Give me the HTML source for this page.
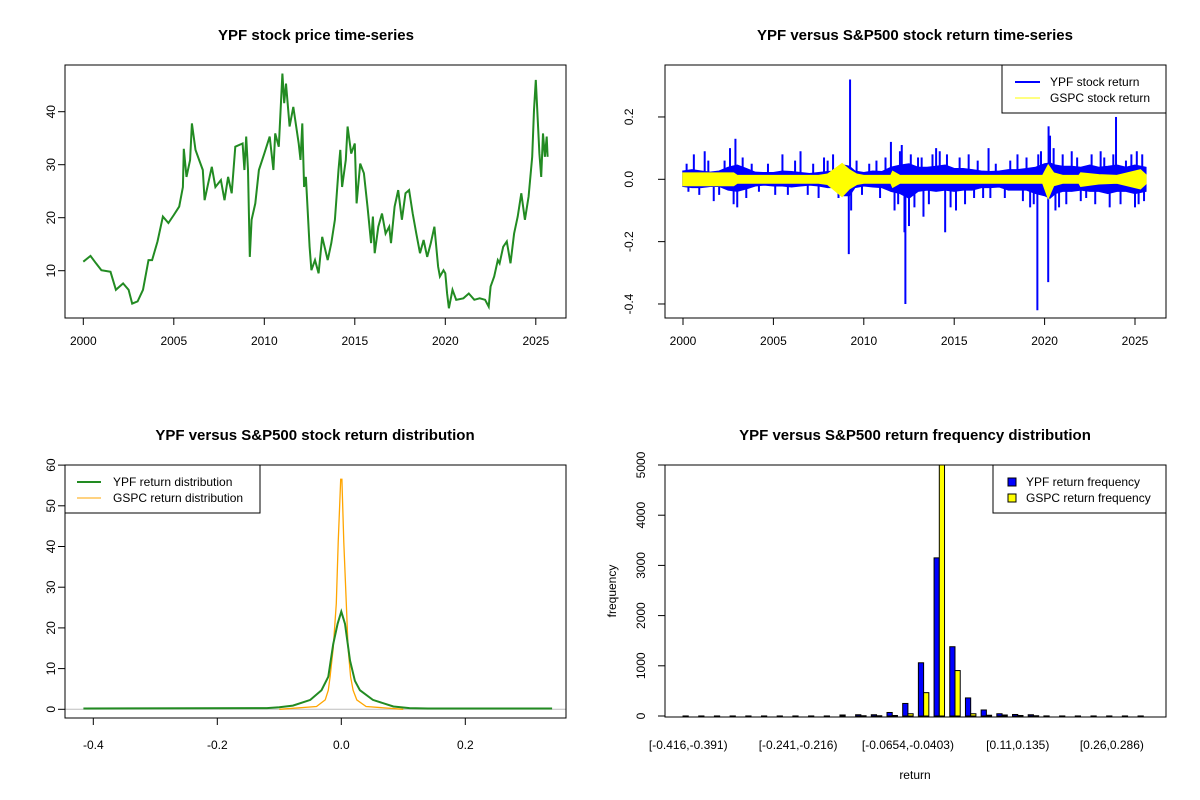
<!DOCTYPE html>
<html><head><meta charset="utf-8">
<style>
html,body{margin:0;padding:0;background:#fff;}
svg{display:block;font-family:"Liberation Sans",Arial,sans-serif;}
</style></head>
<body>
<svg id="c" width="1200" height="800" viewBox="0 0 1200 800" xmlns="http://www.w3.org/2000/svg">
<rect width="1200" height="800" fill="#fff"/>
</svg>
<script>
// ---------- DATA ----------
const priceYears = [2000.0,2000.4,2000.7,2001.0,2001.5,2001.8,2002.2,2002.5,2002.7,2003.0,2003.3,2003.6,2003.8,2004.1,2004.4,2004.7,2005.0,2005.3,2005.5,2005.55,2005.7,2005.9,2006.0,2006.2,2006.4,2006.6,2006.7,2006.9,2007.1,2007.3,2007.6,2007.8,2008.0,2008.2,2008.4,2008.8,2008.9,2009.0,2009.1,2009.2,2009.3,2009.5,2009.7,2010.0,2010.3,2010.5,2010.6,2010.8,2011.0,2011.1,2011.2,2011.4,2011.6,2011.9,2012.0,2012.1,2012.2,2012.3,2012.5,2012.6,2012.8,2013.0,2013.2,2013.5,2013.7,2013.9,2014.1,2014.2,2014.3,2014.5,2014.6,2014.8,2015.0,2015.1,2015.3,2015.5,2015.7,2015.9,2016.0,2016.1,2016.3,2016.5,2016.7,2016.9,2017.0,2017.2,2017.4,2017.6,2017.8,2018.0,2018.2,2018.4,2018.6,2018.8,2019.0,2019.2,2019.4,2019.6,2019.7,2019.9,2020.0,2020.1,2020.2,2020.4,2020.6,2021.0,2021.3,2021.6,2021.9,2022.2,2022.4,2022.5,2022.7,2022.9,2023.0,2023.2,2023.4,2023.6,2023.8,2024.0,2024.2,2024.4,2024.6,2024.8,2024.9,2025.0,2025.1,2025.2,2025.3,2025.4,2025.5,2025.6,2025.65];
const priceValues = [11.7,12.8,11.4,10.1,9.8,6.4,7.6,6.4,3.8,4.2,6.4,12,12,15.5,20.2,19,20.5,22.1,25.8,33,27.7,30.9,37.8,32.8,30.9,29,23.3,26.5,29.6,25.8,27.1,23.3,27.7,24.6,33.4,34,29,35.3,29,12.6,19.6,22.7,29,32.1,35.3,29,35.9,33.4,47.2,41.6,45.3,37.2,40.9,34,30.9,37.8,25.8,27.7,14.5,10.1,12,9.5,16.4,12,15.2,19.6,29,32.8,25.8,30.9,37.2,32.1,34,22.7,30.2,28.4,22.1,15.2,20.2,13.3,18.3,20.8,17,18.3,15.2,22.1,25.2,19.6,24.6,25.2,20.8,17,13.3,15.8,12.6,15.2,18.3,10.8,8.9,10.1,9.5,5.7,2.9,6.4,4.5,4.8,5.7,4.5,4.8,4.5,3.2,7,8.9,12,11.4,14.5,15.5,11.4,17,20.2,24.6,19.6,24,31.5,40.3,46,39,32.1,27.7,35.9,31.5,35.3,31.5];
const priceXTicks = [2000,2005,2010,2015,2020,2025];
const priceYTicks = [10,20,30,40];

const envYears = [2000.0,2000.5,2001.0,2001.5,2002.0,2002.5,2003.0,2003.5,2004.0,2004.5,2005.0,2005.5,2006.0,2006.5,2007.0,2007.5,2008.0,2008.5,2008.9,2009.2,2009.5,2010.0,2010.5,2011.0,2011.5,2012.0,2012.5,2013.0,2013.5,2014.0,2014.5,2015.0,2015.5,2016.0,2016.5,2017.0,2017.5,2018.0,2018.5,2019.0,2019.5,2020.0,2020.3,2020.6,2021.0,2021.5,2022.0,2022.5,2023.0,2023.5,2024.0,2024.5,2025.0,2025.6];
const ypfHi = [.026,.03,.026,.022,.026,.038,.045,.034,.022,.021,.021,.026,.024,.021,.018,.021,.024,.026,.045,.041,.026,.021,.026,.024,.038,.045,.049,.038,.038,.041,.045,.034,.034,.03,.026,.024,.026,.03,.03,.034,.038,.049,.052,.045,.041,.041,.038,.045,.038,.041,.045,.038,.045,.038];
const ypfLo = [-.022,-.026,-.026,-.022,-.022,-.034,-.038,-.03,-.021,-.018,-.021,-.021,-.024,-.021,-.018,-.021,-.026,-.026,-.052,-.052,-.026,-.021,-.024,-.026,-.038,-.045,-.06,-.038,-.034,-.038,-.034,-.038,-.034,-.034,-.026,-.026,-.024,-.034,-.034,-.034,-.045,-.052,-.06,-.045,-.038,-.038,-.034,-.038,-.038,-.045,-.038,-.038,-.045,-.038];
const gspcEnvYears = [2000.0,2002.8,2003.0,2007.5,2008.0,2008.8,2009.2,2009.6,2010.0,2011.5,2011.6,2012.0,2019.9,2020.2,2020.5,2021.0,2021.9,2022.0,2023.0,2024.0,2025.3,2025.6];
const gspcHi = [.02,.02,.012,.012,.016,.05,.03,.016,.012,.012,.025,.012,.012,.045,.02,.012,.012,.02,.014,.012,.03,.014];
const gspcLo = [-.02,-.02,-.012,-.012,-.016,-.055,-.03,-.016,-.012,-.012,-.025,-.012,-.012,-.06,-.02,-.012,-.012,-.022,-.014,-.012,-.03,-.014];
const spikeYears = [2000.6,2001.2,2001.7,2002.6,2002.8,2002.9,2003.0,2003.3,2005.5,2006.5,2007.8,2008.3,2009.17,2009.24,2009.3,2010.7,2011.5,2011.7,2012.1,2012.25,2012.3,2012.5,2013.0,2013.3,2014.0,2014.5,2014.6,2015.1,2016.1,2016.9,2017.0,2018.5,2019.2,2019.6,2019.65,2020.2,2020.22,2020.3,2020.6,2021.5,2022.3,2023.3,2023.95,2024.5,2025.1,2025.2,
2000.2,2000.3,2000.9,2001.4,2002.0,2002.3,2003.5,2003.8,2004.2,2004.7,2005.1,2005.8,2006.2,2006.9,2007.2,2007.5,2008.0,2008.6,2009.6,2009.9,2010.3,2010.9,2011.2,2011.9,2012.0,2012.6,2012.8,2013.2,2013.6,2013.8,2014.2,2014.8,2015.3,2015.6,2015.8,2016.3,2016.6,2017.3,2017.8,2018.1,2018.8,2019.0,2019.4,2019.8,2020.5,2020.8,2021.0,2021.2,2021.8,2022.0,2022.6,2022.8,2023.1,2023.6,2023.8,2024.2,2024.8,2025.0,2025.4,2025.5];
const spikeValues = [.08,.09,-.07,.1,-.08,.13,-.09,.07,.08,.09,.07,.08,-.24,.32,-.1,.06,.12,-.1,.11,-.17,-.40,-.15,.07,-.12,.1,-.17,.08,-.1,-.06,.1,-.06,.08,-.09,-.42,.08,-.33,.17,.14,-.1,.09,-.06,.07,.2,.06,.09,-.08,
.05,-.04,-.05,.06,-.05,.06,-.06,.05,-.04,.05,-.05,-.05,.06,-.05,.05,-.06,.06,-.06,.06,-.05,.05,-.06,.07,-.08,.09,.08,-.09,.07,-.08,.08,.09,-.09,.07,-.08,.08,.06,-.06,.05,-.06,.06,-.07,.07,-.08,.09,.1,-.09,.08,-.08,.07,-.07,.08,-.08,.09,-.09,.08,-.08,.08,-.09,.08,-.07];
const retYTicks = [-0.4,-0.2,0.0,0.2];

const ypfDensX = [-0.416,-0.12,-0.1,-0.078,-0.05,-0.032,-0.021,-0.013,-0.006,0,0.006,0.014,0.022,0.03,0.051,0.084,0.11,0.14,0.34];
const ypfDensY = [0.2,0.3,0.5,0.9,2.3,4.7,8,16,21,24,21,12,7,4.7,2.3,0.7,0.3,0.2,0.2];
const gspcDensX = [-0.1,-0.04,-0.026,-0.021,-0.018,-0.013,-0.008,-0.005,-0.001,0.001,0.004,0.008,0.011,0.015,0.019,0.025,0.04,0.1];
const gspcDensY = [0,0.7,2.3,4.7,8,15,26,41,56.5,56.5,41,26,15,8,4.7,2.3,0.7,0];
const densXTicks = [-0.4,-0.2,0.0,0.2];
const densYTicks = [0,10,20,30,40,50,60];

const binLabels = ["[-0.416,-0.391)","","","","","","","[-0.241,-0.216)","","","","","","","[-0.0654,-0.0403)","","","","","","","[0.11,0.135)","","","","","","[0.26,0.286)","",""];
const ypfCounts = [1,1,1,1,1,1,1,1,1,1,20,25,25,70,250,1060,3150,1380,360,120,45,30,25,2,1,1,1,1,1,1];
const gspcCounts = [0,0,0,0,0,0,0,0,0,0,0,5,5,10,45,465,5400,905,45,15,20,10,5,0,0,0,0,0,0,0];
const freqYTicks = [0,1000,2000,3000,4000,5000];

// ---------- HELPERS ----------
const NS = "http://www.w3.org/2000/svg";
const svg = document.getElementById('c');
function el(tag, attrs, parent, text){
  const e = document.createElementNS(NS, tag);
  for (const k in attrs) e.setAttribute(k, attrs[k]);
  if (text !== undefined) e.textContent = text;
  (parent || svg).appendChild(e);
  return e;
}
function group(name){
  const g = el('g', {});
  
  
  return g;
}
function txt(parent, x, y, s, opts){
  opts = opts || {};
  const t = el('text', {x:x, y:y, 'font-size':opts.size||12, 'text-anchor':opts.anchor||'middle', fill:'#000', 'font-weight':opts.bold?'bold':'normal'}, parent, s);
  if (opts.rot) t.setAttribute('transform', 'rotate(-90 '+x+' '+y+')');
  return t;
}
function box(parent, x0, y0, x1, y1){
  el('rect', {x:x0, y:y0, width:x1-x0, height:y1-y0, fill:'none', stroke:'#000', 'stroke-width':1}, parent);
}

// ---------- PANEL 1: price ----------
(function(){
  const g = group('price-panel');
  const L=65, R=566, T=65, B=318;
  const sx = v => 83.3 + (v-2000)*18.1;
  const sy = v => 270.7 - (v-10)*5.3;
  txt(g, 316, 40, 'YPF stock price time-series', {size:15, bold:true});
  let d = '';
  priceYears.forEach((yr,i)=>{ d += (i?'L':'M') + sx(yr).toFixed(1) + ' ' + sy(priceValues[i]).toFixed(1); });
  const p = el('path', {d:d, fill:'none', stroke:'#228b22', 'stroke-width':2, 'stroke-linejoin':'miter'}, g);
  
  
  box(g, L, T, R, B);
  priceXTicks.forEach(v=>{ el('line',{x1:sx(v),x2:sx(v),y1:B,y2:B+7,stroke:'#000'},g); txt(g, sx(v), 345, String(v)); });
  priceYTicks.forEach(v=>{ el('line',{x1:L,x2:L-7,y1:sy(v),y2:sy(v),stroke:'#000'},g); txt(g, 55, sy(v), String(v), {rot:true}); });
})();

// ---------- PANEL 2: returns ----------
(function(){
  const g = group('returns-panel');
  const L=665, R=1166, T=65, B=318;
  const sx = v => 683 + (v-2000)*18.08;
  const sy = v => 179.3 - v*311.7;
  txt(g, 915, 40, 'YPF versus S&P500 stock return time-series', {size:15, bold:true});
  function band(years, hi, lo, color, name){
    let d = 'M' + sx(years[0]) + ' ' + sy(hi[0]);
    for (let i=1;i<years.length;i++) d += 'L' + sx(years[i]).toFixed(1) + ' ' + sy(hi[i]).toFixed(1);
    for (let i=years.length-1;i>=0;i--) d += 'L' + sx(years[i]).toFixed(1) + ' ' + sy(lo[i]).toFixed(1);
    const p = el('path', {d:d+'Z', fill:color, stroke:color, 'stroke-width':1.5}, g);
    
    
  }
  band(envYears, ypfHi, ypfLo, '#0000ff', 'ypf-return-band');
  spikeYears.forEach((yr,i)=>{
    const l = el('line', {x1:sx(yr), x2:sx(yr), y1:sy(0), y2:sy(spikeValues[i]), stroke:'#0000ff', 'stroke-width':2}, g);
    
    
  });
  band(gspcEnvYears, gspcHi, gspcLo, '#ffff00', 'gspc-return-band');
  box(g, L, T, R, B);
  priceXTicks.forEach(v=>{ el('line',{x1:sx(v),x2:sx(v),y1:B,y2:B+7,stroke:'#000'},g); txt(g, sx(v), 345, String(v)); });
  retYTicks.forEach(v=>{ el('line',{x1:L,x2:L-7,y1:sy(v),y2:sy(v),stroke:'#000'},g); txt(g, 633, sy(v), v===0?'0.0':String(v), {rot:true}); });
  const lg = el('g', {}, g);
  
  
  el('rect', {x:1002, y:65, width:164, height:48, fill:'#fff', stroke:'#000'}, lg);
  el('line', {x1:1015, x2:1040, y1:82, y2:82, stroke:'#0000ff', 'stroke-width':2}, lg);
  el('line', {x1:1015, x2:1040, y1:98, y2:98, stroke:'#ffff00', 'stroke-width':1}, lg);
  txt(lg, 1050, 86, 'YPF stock return', {anchor:'start'});
  txt(lg, 1050, 102, 'GSPC stock return', {anchor:'start'});
})();

// ---------- PANEL 3: density ----------
(function(){
  const g = group('density-panel');
  const L=65, R=566, T=465, B=718;
  const sx = v => 341.3 + v*620;
  const sy = v => 709.3 - v*4.07;
  txt(g, 315, 440, 'YPF versus S&P500 stock return distribution', {size:15, bold:true});
  el('line', {x1:L, x2:R, y1:sy(0), y2:sy(0), stroke:'#bebebe'}, g);
  function curve(xs, ys, color, w, name){
    let d='';
    xs.forEach((x,i)=>{ d += (i?'L':'M') + sx(x).toFixed(1) + ' ' + sy(ys[i]).toFixed(1); });
    const p = el('path', {d:d, fill:'none', stroke:color, 'stroke-width':w}, g);
    
    
  }
  curve(gspcDensX, gspcDensY, '#ffa500', 1.3, 'gspc-density-curve');
  curve(ypfDensX, ypfDensY, '#228b22', 2, 'ypf-density-curve');
  box(g, L, T, R, B);
  densXTicks.forEach(v=>{ el('line',{x1:sx(v),x2:sx(v),y1:B,y2:B+7,stroke:'#000'},g); txt(g, sx(v), 749, v===0?'0.0':String(v)); });
  densYTicks.forEach(v=>{ el('line',{x1:L,x2:L-7,y1:sy(v),y2:sy(v),stroke:'#000'},g); txt(g, 55, sy(v), String(v), {rot:true}); });
  const lg = el('g', {}, g);
  
  
  el('rect', {x:65, y:465, width:195, height:48, fill:'#fff', stroke:'#000'}, lg);
  el('line', {x1:77, x2:101, y1:482, y2:482, stroke:'#228b22', 'stroke-width':2}, lg);
  el('line', {x1:77, x2:101, y1:498, y2:498, stroke:'#ffa500', 'stroke-width':1}, lg);
  txt(lg, 113, 486, 'YPF return distribution', {anchor:'start'});
  txt(lg, 113, 502, 'GSPC return distribution', {anchor:'start'});
})();

// ---------- PANEL 4: histogram ----------
(function(){
  const g = group('frequency-panel');
  const L=665, R=1166, T=465, B=717;
  const u = 5.23, x0 = 677.8;
  const sy = v => 716 - v*0.0502;
  txt(g, 915, 440, 'YPF versus S&P500 return frequency distribution', {size:15, bold:true});
  const clip = el('clipPath', {id:'hclip'}, g);
  el('rect', {x:L, y:T, width:R-L, height:B-T}, clip);
  const bars = el('g', {'clip-path':'url(#hclip)'}, g);
  ypfCounts.forEach((c,i)=>{
    const xa = x0 + (1+3*i)*u;
    const r1 = el('rect', {x:xa, y:sy(c), width:u, height:Math.max(0, sy(0)-sy(c)), fill:'#0000ff', stroke:'#000', 'stroke-width':1}, bars);
    
    
    const c2 = gspcCounts[i];
    const r2 = el('rect', {x:xa+u, y:sy(c2), width:u, height:Math.max(0, sy(0)-sy(c2)), fill:'#ffff00', stroke:'#000', 'stroke-width':1}, bars);
    
    
    if (binLabels[i]) txt(g, x0 + (2+3*i)*u, 749, binLabels[i]);
  });
  box(g, L, T, R, B);
  freqYTicks.forEach(v=>{ el('line',{x1:L,x2:L-7,y1:sy(v),y2:sy(v),stroke:'#000'},g); txt(g, 645, sy(v), String(v), {rot:true}); });
  txt(g, 915, 779, 'return');
  txt(g, 616, 591, 'frequency', {rot:true});
  const lg = el('g', {}, g);
  
  
  el('rect', {x:993, y:465, width:173, height:48, fill:'#fff', stroke:'#000'}, lg);
  el('rect', {x:1008, y:478, width:8, height:8, fill:'#0000ff', stroke:'#000'}, lg);
  el('rect', {x:1008, y:494, width:8, height:8, fill:'#ffff00', stroke:'#000'}, lg);
  txt(lg, 1026, 486, 'YPF return frequency', {anchor:'start'});
  txt(lg, 1026, 502, 'GSPC return frequency', {anchor:'start'});
})();
</script>
</body></html>
